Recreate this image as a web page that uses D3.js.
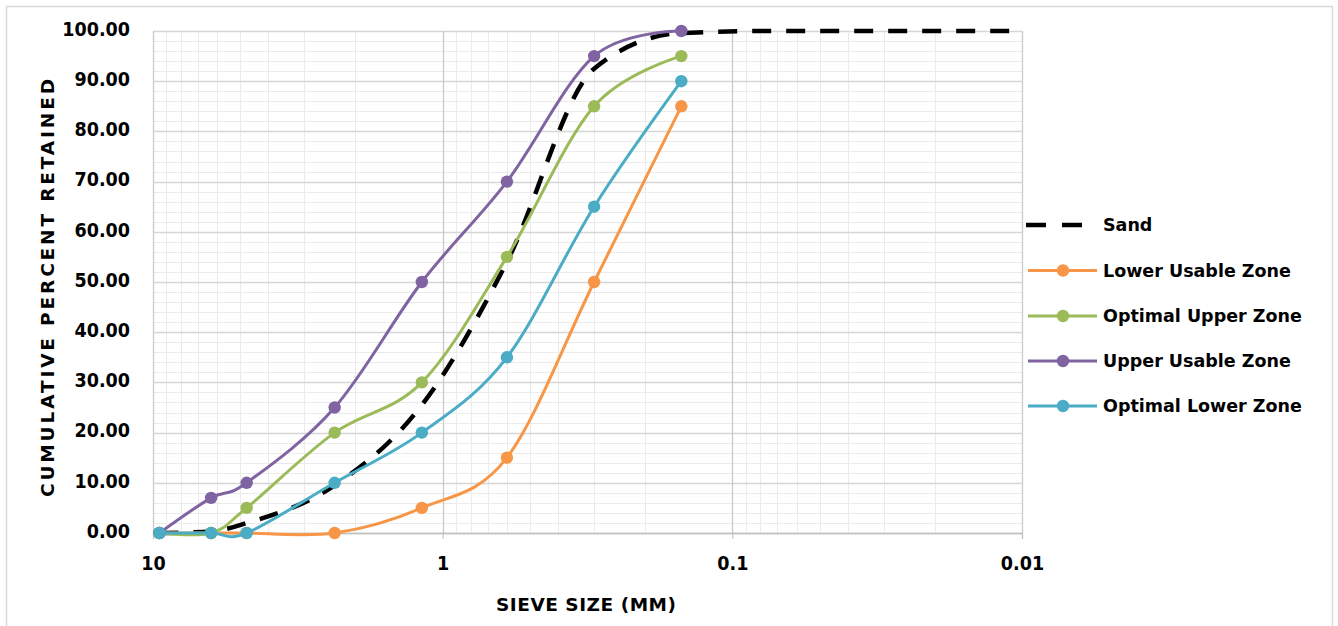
<!DOCTYPE html>
<html><head><meta charset="utf-8">
<script src="https://cdn.jsdelivr.net/npm/d3@7"></script>
<style>body{margin:0;background:#fff;} svg{display:block}</style>
</head><body><svg id="c" width="1338" height="626"></svg>
<script>
// ---- data ----
const sieveSizes = [9.5, 6.3, 4.75, 2.36, 1.18, 0.6, 0.3, 0.15];
const sandSizes = [9.5, 6.3, 4.75, 2.36, 1.18, 0.6, 0.3, 0.15, 0.075, 0.01];
const sandValues = [0, 0.3, 2, 9.5, 25.5, 54, 92.5, 99.6, 100, 100];
const lowerUsable = [0, 0, 0, 0, 5, 15, 50, 85];
const optimalUpper = [0, 0, 5, 20, 30, 55, 85, 95];
const upperUsable = [0, 7, 10, 25, 50, 70, 95, 100];
const optimalLower = [0, 0, 0, 10, 20, 35, 65, 90];
const seriesNames = ["Sand", "Lower Usable Zone", "Optimal Upper Zone", "Upper Usable Zone", "Optimal Lower Zone"];
const seriesColors = ["#000000", "#F79646", "#9BBB59", "#8064A2", "#4BACC6"];
const xTickValues = [10, 1, 0.1, 0.01];
const xTickLabels = ["10", "1", "0.1", "0.01"];
const yTickValues = [0, 10, 20, 30, 40, 50, 60, 70, 80, 90, 100];
const xTitle = "SIEVE SIZE (MM)";
const yTitle = "CUMULATIVE  PERCENT  RETAINED";

// ---- layout ----
const svg = d3.select("#c");
const L = 153, R = 1022, T = 31, B = 533;
const x = d3.scaleLog().domain([10, 0.01]).range([L, R]);
const y = d3.scaleLinear().domain([0, 100]).range([B, T]);

svg.append("rect").attr("x", 6.5).attr("y", 6.5).attr("width", 1326).attr("height", 640)
  .attr("fill", "#fff").attr("stroke", "#d9d9d9").attr("stroke-width", 1.5);

const grid = svg.append("g");
// minor horizontal
d3.range(0, 101, 2).filter(v => v % 10 !== 0).forEach(v => {
  grid.append("line").attr("x1", L).attr("x2", R).attr("y1", Math.round(y(v)) + 0.5).attr("y2", Math.round(y(v)) + 0.5)
    .attr("stroke", "#ebebeb").attr("stroke-width", 1);
});
// minor vertical
x.ticks().filter(v => !xTickValues.some(m => Math.abs(m - v) < 1e-9)).forEach(v => {
  grid.append("line").attr("y1", T).attr("y2", B).attr("x1", Math.round(x(v)) + 0.5).attr("x2", Math.round(x(v)) + 0.5)
    .attr("stroke", "#ebebeb").attr("stroke-width", 1);
});
// major horizontal
yTickValues.forEach(v => {
  grid.append("line").attr("x1", L).attr("x2", R).attr("y1", Math.round(y(v)) + 0.5).attr("y2", Math.round(y(v)) + 0.5)
    .attr("stroke", "#d6d6d6").attr("stroke-width", 1.3);
});
// major vertical
xTickValues.forEach(v => {
  grid.append("line").attr("y1", T).attr("y2", B).attr("x1", Math.round(x(v)) + 0.5).attr("x2", Math.round(x(v)) + 0.5)
    .attr("stroke", "#cacaca").attr("stroke-width", 1.3);
});

// axes
const fontTicks = "'DejaVu Sans Condensed','DejaVu Sans',sans-serif";
const xAxis = svg.append("g").attr("transform", `translate(0,${B})`)
  .call(d3.axisBottom(x).tickValues(xTickValues).tickFormat((d, i) => xTickLabels[i]).tickSize(6).tickPadding(17));
xAxis.select(".domain").attr("stroke", "#bfbfbf").attr("stroke-width", 1.3);
xAxis.selectAll(".tick line").attr("stroke", "#bfbfbf");
xAxis.selectAll("text").attr("font-family", fontTicks).attr("font-weight", "bold").attr("font-size", 19.5).attr("fill", "#000");

const yAxis = svg.append("g").attr("transform", `translate(${L},0)`)
  .call(d3.axisLeft(y).tickValues(yTickValues).tickFormat(d3.format(".2f")).tickSize(0).tickPadding(23));
yAxis.select(".domain").remove();
yAxis.selectAll("text").attr("font-family", fontTicks).attr("font-weight", "bold").attr("font-size", 19.5)
  .attr("fill", "#000").attr("dy", "0.22em");

// titles
svg.append("text").attr("x", 586).attr("y", 611).attr("text-anchor", "middle")
  .attr("font-family", "'DejaVu Sans',sans-serif").attr("font-weight", "bold").attr("font-size", 18.5)
  .attr("textLength", 180).attr("lengthAdjust", "spacing").text(xTitle);
svg.append("text").attr("transform", "translate(54,288) rotate(-90)").attr("text-anchor", "middle")
  .attr("font-family", "'DejaVu Sans',sans-serif").attr("font-weight", "bold").attr("font-size", 18.5)
  .attr("textLength", 418).attr("lengthAdjust", "spacing").text(yTitle);

// series
const curve = d3.curveCardinal.tension(0);
const line = d3.line().x(d => x(d[0])).y(d => y(d[1])).curve(curve);
const sandLine = d3.line().x(d => x(d[0])).y(d => y(d[1])).curve(d3.curveMonotoneX);
const zoneData = [lowerUsable, optimalUpper, upperUsable, optimalLower];

const sandPts = sandSizes.map((s, i) => [s, sandValues[i]]);
svg.append("path").attr("d", sandLine(sandPts)).attr("fill", "none").attr("stroke", "#000")
  .attr("stroke-width", 4.5).attr("stroke-dasharray", "19,15");

zoneData.forEach((vals, k) => {
  const pts = sieveSizes.map((s, i) => [s, vals[i]]);
  const c = seriesColors[k + 1];
  svg.append("path").attr("d", line(pts)).attr("fill", "none").attr("stroke", c).attr("stroke-width", 3);
  svg.append("g").selectAll("circle").data(pts).join("circle")
    .attr("cx", d => x(d[0])).attr("cy", d => y(d[1])).attr("r", 6.2).attr("fill", c);
});

// legend
const legY = [225, 270.5, 316, 361, 406];
const lg = svg.append("g");
seriesNames.forEach((n, i) => {
  const yy = legY[i];
  if (i === 0) {
    lg.append("line").attr("x1", 1026).attr("x2", 1098).attr("y1", yy).attr("y2", yy)
      .attr("stroke", "#000").attr("stroke-width", 4.5).attr("stroke-dasharray", "20,16");
  } else {
    lg.append("line").attr("x1", 1028).attr("x2", 1097).attr("y1", yy).attr("y2", yy)
      .attr("stroke", seriesColors[i]).attr("stroke-width", 3);
    lg.append("circle").attr("cx", 1063).attr("cy", yy).attr("r", 6.2).attr("fill", seriesColors[i]);
  }
  lg.append("text").attr("x", 1103).attr("y", yy).attr("dy", "0.36em")
    .attr("font-family", "'DejaVu Sans',sans-serif").attr("font-weight", "bold").attr("font-size", 17.5)
    .text(n);
});
</script></body></html>
